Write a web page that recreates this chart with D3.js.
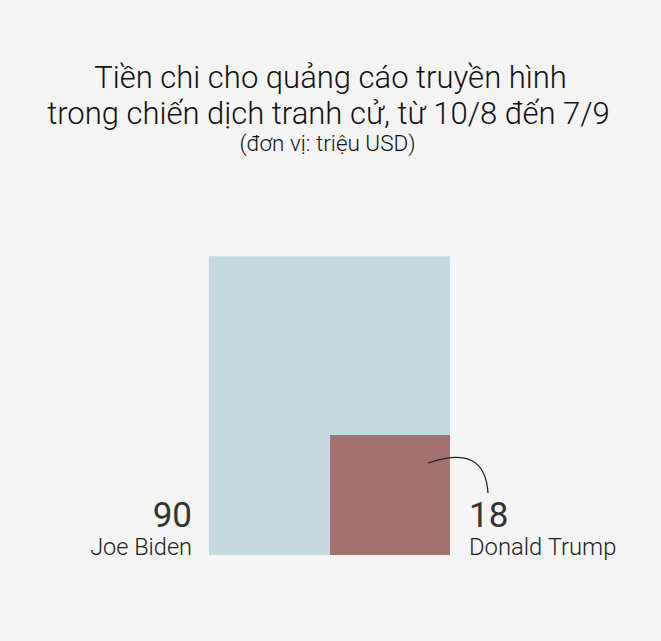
<!DOCTYPE html>
<html>
<head>
<meta charset="utf-8">
<script src="https://cdn.jsdelivr.net/npm/d3@7"></script>
<style>
  body { margin: 0; background: #f4f4f4; }
  svg { display: block; }
</style>
</head>
<body>
<svg id="chart"></svg>
<script>
// dữ liệu
const candidates = ["Joe Biden", "Donald Trump"];
const spending = [90, 18];
const titleLines = ["Tiền chi cho quảng cáo truyền hình", "trong chiến dịch tranh cử, từ 10/8 đến 7/9"];
const subtitle = "(đơn vị: triệu USD)";

const width = 661, height = 641;
const baseY = 555, rightX = 450;
const bidenWidth = 241;

const svg = d3.select("#chart")
    .attr("width", width)
    .attr("height", height)
    .attr("font-family", "Roboto, sans-serif");

svg.append("rect").attr("width", width).attr("height", height).attr("fill", "#f4f4f4");

// area scale: value -> pixel area
const area = d3.scaleLinear().domain([0, d3.max(spending)]).range([0, 72000]);

const biden = { w: bidenWidth, h: area(spending[0]) / bidenWidth };
const trumpSide = Math.sqrt(area(spending[1]));

svg.append("rect")
    .attr("x", rightX - biden.w)
    .attr("y", baseY - biden.h)
    .attr("width", biden.w)
    .attr("height", biden.h)
    .attr("fill", "#c5dae0");

svg.append("rect")
    .attr("x", rightX - trumpSide)
    .attr("y", baseY - trumpSide)
    .attr("width", trumpSide)
    .attr("height", trumpSide)
    .attr("fill", "#a37270");

// title
const title = svg.append("g").attr("text-anchor", "middle").attr("fill", "#111").attr("font-weight", 300);
titleLines.forEach((t, i) => {
    title.append("text")
        .attr("x", width / 2 - 2 * i)
        .attr("y", 88 + i * 36)
        .attr("font-size", 31)
        .text(t);
});
title.append("text")
    .attr("x", width / 2 - 3)
    .attr("y", 151)
    .attr("font-size", 22.5)
    .text(subtitle);

// labels
const leftX = rightX - biden.w - 17;
svg.append("text").attr("x", leftX).attr("y", 527).attr("text-anchor", "end")
    .attr("font-size", 35).attr("fill", "#333").text(spending[0]);
svg.append("text").attr("x", leftX).attr("y", 555).attr("text-anchor", "end")
    .attr("font-size", 23.5).attr("font-weight", 300).attr("fill", "#222").text(candidates[0]);

const labX = rightX + 19;
svg.append("text").attr("x", labX).attr("y", 527)
    .attr("font-size", 35).attr("fill", "#333").text(spending[1]);
svg.append("text").attr("x", labX).attr("y", 555)
    .attr("font-size", 23.8).attr("font-weight", 300).attr("fill", "#222").text(candidates[1]);

// annotation curve
svg.append("path")
    .attr("d", `M${rightX - 22},${baseY - 92} Q${rightX + 35},${baseY - 112} ${rightX + 38},${baseY - 62}`)
    .attr("fill", "none")
    .attr("stroke", "#222")
    .attr("stroke-width", 1.3);
</script>
</body>
</html>
